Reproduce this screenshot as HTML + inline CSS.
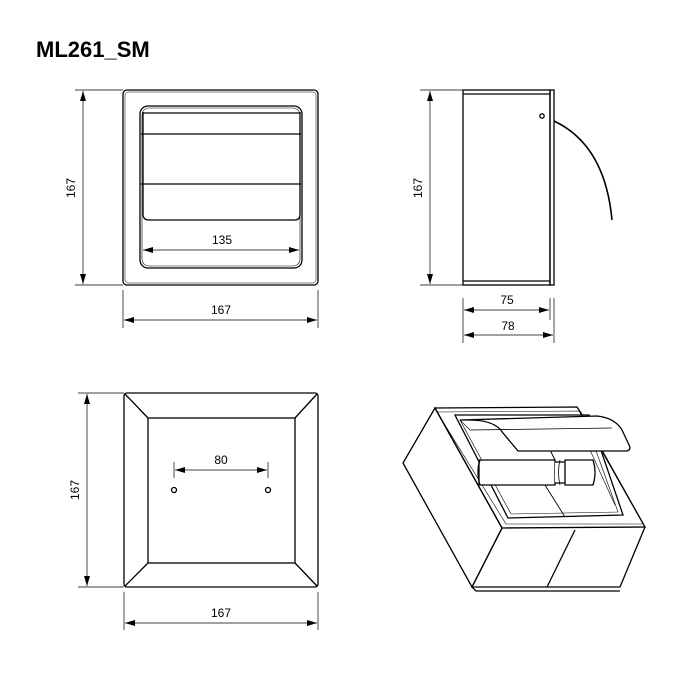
<!DOCTYPE html>
<html><head><style>html,body{margin:0;padding:0;background:#fff}svg{display:block}</style></head>
<body>
<svg width="700" height="700" viewBox="0 0 700 700" xmlns="http://www.w3.org/2000/svg" font-family="Liberation Sans, sans-serif">
<defs>
<marker id="a" viewBox="0 0 10 6" refX="10" refY="3" markerWidth="10" markerHeight="6" orient="auto-start-reverse" markerUnits="userSpaceOnUse"><path d="M0,0 L10,3 L0,6 z" fill="#000"/></marker>
</defs>
<text x="36" y="57" font-size="22" font-weight="bold">ML261_SM</text>
<g fill="none" stroke="#000" stroke-width="1.3">
<!-- front view -->
<rect x="123" y="90" width="195" height="195" rx="4"/>
<rect x="125" y="92" width="191" height="191" rx="3" stroke-width="0.5"/>
<rect x="140" y="106" width="162" height="162" rx="8"/>
<rect x="142" y="108" width="158" height="158" rx="7" stroke-width="0.6"/>
<path d="M143 113 H300 M141 134 H301 M141 184 H301"/>
<path d="M143 112 V214 Q143 220 149 220 H295 Q300 220 300 214 V112"/>
<path d="M143 250 H299" stroke-width="0.7" marker-start="url(#a)" marker-end="url(#a)"/>
<path d="M75 90 H123 M75 285 H123 M123 290 V328 M318 290 V328" stroke-width="0.7"/>
<path d="M83 91 V284" stroke-width="0.7" marker-start="url(#a)" marker-end="url(#a)"/>
<path d="M124 320 H317" stroke-width="0.7" marker-start="url(#a)" marker-end="url(#a)"/>
<!-- side view -->
<rect x="463" y="90" width="87" height="195"/>
<rect x="550" y="90" width="4" height="195"/>
<path d="M463 94 H550 M463 281 H550"/>
<circle cx="542" cy="116" r="2.2"/>
<path d="M554 121 Q605 145 612 220" stroke-width="1.6"/>
<path d="M420 90 H463 M420 285 H463 M463 298 V343 M550 298 V320 M554 298 V343" stroke-width="0.7"/>
<path d="M430 91 V284" stroke-width="0.7" marker-start="url(#a)" marker-end="url(#a)"/>
<path d="M464 310 H549" stroke-width="0.7" marker-start="url(#a)" marker-end="url(#a)"/>
<path d="M464 335 H553" stroke-width="0.7" marker-start="url(#a)" marker-end="url(#a)"/>
<!-- bottom view -->
<rect x="124" y="393" width="194" height="194" rx="3"/>
<rect x="148" y="418" width="147" height="145"/>
<path d="M125 394 L148 418 M317 394 L295 418 M125 586 L148 563 M317 586 L295 563"/>
<circle cx="174" cy="490" r="2.5"/><circle cx="268" cy="490" r="2.5"/>
<path d="M174 462 V478 M268 462 V478" stroke-width="0.7"/>
<path d="M175 470 H267" stroke-width="0.7" marker-start="url(#a)" marker-end="url(#a)"/>
<path d="M78 393 H124 M78 587 H124 M124 592 V630 M318 592 V630" stroke-width="0.7"/>
<path d="M87 394 V586" stroke-width="0.7" marker-start="url(#a)" marker-end="url(#a)"/>
<path d="M125 623 H317" stroke-width="0.7" marker-start="url(#a)" marker-end="url(#a)"/>
<!-- iso view -->
<path d="M435 408 L403 463 L472 587 L502 528 Z"/>
<path d="M435 408 L577 407 L581 413 L645 527 L502 528 Z"/>
<path d="M437 412 L579 411 L643 524 L506 524 Z" stroke-width="0.6"/>
<path d="M502 528 L472 587 L620 587 L645 527 M472 587 L476 591 L620 591"/>
<path d="M575 530 L547 587"/>
<path d="M455 415 L589 415 L623 515 L508 518 Z"/>
<path d="M460 420 L585 420 L618 512 L511 514 Z" stroke-width="0.6"/>
<path d="M460 420 L470 430 M590 450 L615 505" stroke-width="0.6"/>
<path d="M479 460 L555 460 L555 485 L479 485 Z" fill="#fff"/>
<path d="M480 460 Q476 472 480 485" />
<path d="M555 462 L565 462 L565 483 L555 483 M565 460 L593 460 Q597 472 593 485 L565 485 Z" fill="#fff"/>
<path d="M560 460 Q557 472 560 485" stroke-width="0.8"/>
<path d="M545 485 L565 517 M550 450 L555 460" stroke-width="0.9"/>
<path d="M460 420 L597 416 Q615 418 622 430 L630 447 Q630 451 626 451 L518 451 L503 433 Q495 420 470 420 Z" fill="#fff"/>
<path d="M470 430 L612 428" stroke-width="0.8"/>
</g>
<g font-size="12" fill="#000" text-anchor="middle">
<text x="222" y="244">135</text>
<text x="221" y="314">167</text>
<text transform="translate(75,188) rotate(-90)">167</text>
<text transform="translate(422,188) rotate(-90)">167</text>
<text x="507" y="304">75</text>
<text x="508" y="330">78</text>
<text x="221" y="464">80</text>
<text x="221" y="617">167</text>
<text transform="translate(79,490) rotate(-90)">167</text>
</g>
</svg>
</body></html>
